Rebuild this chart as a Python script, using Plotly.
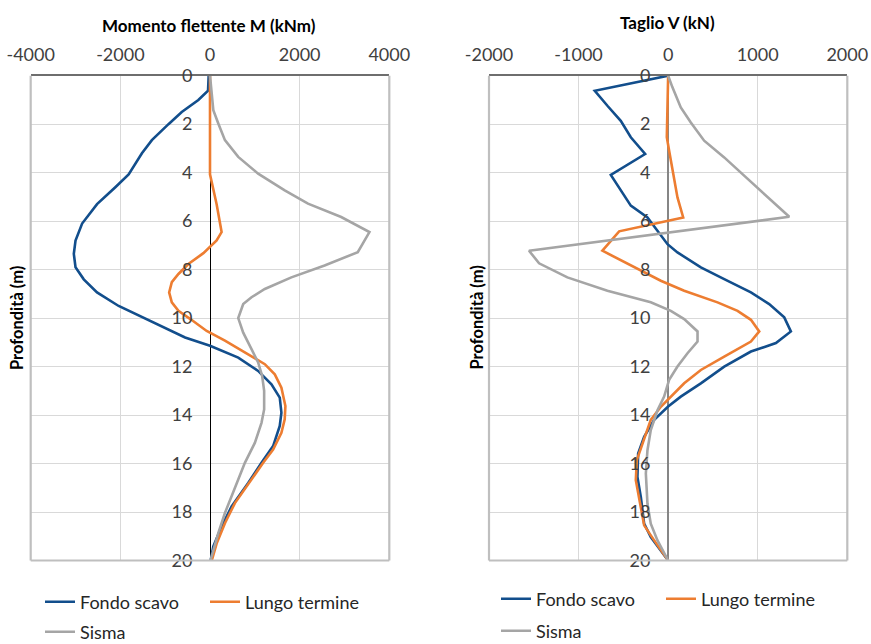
import plotly.graph_objects as go

# ---------------- data ----------------
series_names = ["Fondo scavo", "Lungo termine", "Sisma"]
series_colors = ["#124E8C", "#ED7D31", "#A5A5A5"]

# Momento flettente M (kNm) vs profondità (m)
fondo_M_depth = [0, 0.62, 1.0, 1.5, 2.0, 2.66, 3.2, 4.07, 4.6, 5.3, 6.1, 6.8, 7.35, 7.9, 8.4, 8.94, 9.5, 9.83,
                 10.3, 10.8, 11.14, 11.63, 12.18, 12.73, 13.28, 13.9, 14.45, 15.28, 15.97, 16.8, 17.77, 18.6, 19.42, 20.0]
fondo_M = [-30, -44, -260, -630, -926, -1297, -1519, -1815, -2112, -2520, -2853, -3000, -3038, -3000, -2816, -2520,
           -2038, -1667, -1149, -556, 0, 630, 1074, 1371, 1556, 1593, 1556, 1408, 1149, 852, 482, 259, 74, 15]

lungo_M_depth = [0, 4.07, 5.3, 6.45, 6.8, 7.08, 7.32, 7.77, 8.18, 8.52, 8.94, 9.35, 9.7, 10.05, 10.53, 10.93, 11.42,
                 11.9, 12.32, 12.87, 13.63, 14.18, 14.73, 15.42, 15.97, 16.66, 17.63, 18.46, 19.3, 20.0]
lungo_M = [0, 0, 148, 259, 148, 0, -148, -482, -704, -852, -911, -852, -704, -430, -74, 333, 778,
           1223, 1445, 1593, 1682, 1667, 1593, 1408, 1186, 926, 556, 333, 148, 40]

sisma_M_depth = [0, 0.62, 1.42, 1.97, 2.66, 3.35, 4.04, 4.73, 5.28, 5.83, 6.45, 7.28, 7.83, 8.32, 8.8, 9.14, 9.42,
                 10.0, 10.6, 11.28, 11.83, 12.38, 13.0, 13.77, 14.32, 15.15, 15.97, 16.66, 17.35, 18.04, 18.87, 19.7, 20.0]
sisma_M = [0, 37, 74, 185, 333, 630, 1074, 1667, 2186, 2927, 3557, 3297, 2556, 1815, 1223, 926, 741,
           630, 741, 926, 1074, 1163, 1208, 1208, 1149, 1000, 778, 630, 482, 333, 185, 59, 10]

# Taglio V (kN) vs profondità (m)
fondo_V_depth = [0, 0.62, 1.24, 1.86, 2.54, 3.23, 4.09, 4.75, 5.36, 5.85, 6.4, 6.95, 7.29, 7.91, 8.39, 8.94, 9.42,
                 9.97, 10.55, 11.03, 11.38, 12.0, 12.69, 13.24, 13.65, 14.2, 14.9, 15.59, 16.55, 17.38, 18.48, 19.03, 20.0]
fondo_V = [0, -819, -678, -529, -417, -257, -640, -529, -417, -231, -119, -7, 104, 365, 626, 924, 1128,
           1296, 1370, 1203, 924, 626, 365, 141, 0, -156, -268, -335, -343, -305, -268, -194, 0]

lungo_V_depth = [0, 1.17, 2.54, 3.1, 3.92, 5.02, 5.85, 6.42, 7.22, 8.05, 8.46, 8.87, 9.35, 9.7, 10.07, 10.55,
                 10.97, 11.59, 12.14, 12.69, 13.24, 13.66, 14.2, 15.17, 15.86, 16.69, 17.38, 17.93, 18.55, 19.17, 20.0]
lungo_V = [0, -7, -15, 11, 48, 104, 168, -547, -734, -305, -82, 179, 551, 775, 924, 1017,
           924, 626, 365, 179, 30, -82, -194, -287, -350, -361, -324, -298, -268, -156, 0]

sisma_V_depth = [0, 0.48, 1.31, 1.93, 2.68, 3.37, 4.06, 4.88, 5.82, 7.22, 7.74, 8.32, 8.87, 9.35, 9.7, 10.04,
                 10.55, 10.97, 11.45, 12.0, 12.55, 13.24, 13.8, 14.62, 15.45, 16.41, 17.66, 18.48, 19.17, 20.0]
sisma_V = [0, 48, 141, 253, 402, 626, 830, 1072, 1352, -1553, -1441, -1125, -678, -194, 30, 179,
           328, 328, 216, 104, 11, -45, -119, -194, -231, -249, -231, -194, -119, 0]

M_ticks = [-4000, -2000, 0, 2000, 4000]
M_ticklabels = ["-4000", "-2000", "0", "2000", "4000"]
V_ticks = [-2000, -1000, 0, 1000, 2000]
V_ticklabels = ["-2000", "-1000", "0", "1000", "2000"]
depth_ticks = [0, 2, 4, 6, 8, 10, 12, 14, 16, 18, 20]

title_M = "Momento flettente M (kNm)"
title_V = "Taglio V (kN)"
title_depth = "Profondità (m)"

# ---------------- figure ----------------
W, H = 871, 644
FONT = "Lato, Carlito, Calibri, sans-serif"

def px_x(p):
    return p / W

def px_y(p):
    return 1 - p / H

dom1 = [px_x(30.7), px_x(389.3)]
dom2 = [px_x(489), px_x(847.3)]
ydom = [px_y(560.5), px_y(75.7)]

fig = go.Figure()

left = [(fondo_M, fondo_M_depth, "legend"), (lungo_M, lungo_M_depth, "legend"), (sisma_M, sisma_M_depth, "legend2")]
right = [(fondo_V, fondo_V_depth, "legend3"), (lungo_V, lungo_V_depth, "legend3"), (sisma_V, sisma_V_depth, "legend4")]

for i, (xv, yv, lg) in enumerate(left):
    fig.add_trace(go.Scatter(x=xv, y=yv, mode="lines", name=series_names[i],
                             line=dict(color=series_colors[i], width=2.6),
                             xaxis="x", yaxis="y", legend=lg))
for i, (xv, yv, lg) in enumerate(right):
    fig.add_trace(go.Scatter(x=xv, y=yv, mode="lines", name=series_names[i],
                             line=dict(color=series_colors[i], width=2.6),
                             xaxis="x2", yaxis="y2", legend=lg))

grid = "#D9D9D9"
tickfont = dict(family=FONT, size=18, color="#404040")

xcommon = dict(side="top", showgrid=True, gridcolor=grid, gridwidth=1.3,
               ticks="outside", ticklen=6, tickcolor="rgba(0,0,0,0)",
               tickfont=tickfont, showline=True, linecolor="#6E6E6E", linewidth=2,
               fixedrange=True)
ycommon = dict(autorange=False, range=[20, 0], tickvals=depth_ticks, showgrid=True, gridcolor=grid,
               gridwidth=1.3, zeroline=False, ticks="outside", ticklen=14, tickcolor="rgba(0,0,0,0)",
               tickfont=tickfont, showline=False, domain=ydom, anchor="free", side="left")

fig.update_layout(
    width=W, height=H,
    margin=dict(l=0, r=0, t=0, b=0, autoexpand=False),
    paper_bgcolor="white", plot_bgcolor="white",
    font=dict(family=FONT, color="#404040"),
    xaxis=dict(domain=dom1, range=[-4000, 4000], tickvals=M_ticks, ticktext=M_ticklabels, anchor="y",
               zeroline=True, zerolinecolor="#000000", zerolinewidth=1, **xcommon),
    xaxis2=dict(domain=dom2, range=[-2000, 2000], tickvals=V_ticks, ticktext=V_ticklabels, anchor="y2",
                zeroline=True, zerolinecolor="#868686", zerolinewidth=1.5, **xcommon),
    yaxis=dict(position=px_x(210), **ycommon),
    yaxis2=dict(position=px_x(668), **ycommon),
    showlegend=True,
)

legfont = dict(family=FONT, size=18, color="#262626")
legcommon = dict(orientation="h", xanchor="left", yanchor="middle", font=legfont,
                 bgcolor="rgba(0,0,0,0)", entrywidth=120, entrywidthmode="pixels",
                 itemclick=False, itemdoubleclick=False)
fig.update_layout(
    legend=dict(x=px_x(40), y=px_y(602), **legcommon),
    legend2=dict(x=px_x(40), y=px_y(632), **legcommon),
    legend3=dict(x=px_x(496), y=px_y(599), **legcommon),
    legend4=dict(x=px_x(496), y=px_y(631), **legcommon),
)

# plot frame (left, bottom, right borders)
for xr, yr in [("x domain", "y domain"), ("x2 domain", "y2 domain")]:
    for (x0, y0, x1, y1) in [(0, 0, 0, 1), (0, 0, 1, 0), (1, 0, 1, 1)]:
        fig.add_shape(type="line", xref=xr, yref=yr, x0=x0, y0=y0, x1=x1, y1=y1,
                      line=dict(color="#BFBFBF", width=2.2), layer="above")

# titles
annots = [
    dict(text=f"<b>{title_M}</b>", x=px_x(209), y=px_y(25), size=17),
    dict(text=f"<b>{title_V}</b>", x=px_x(667), y=px_y(23), size=17),
    dict(text=f"<b>{title_depth}</b>", x=px_x(17), y=px_y(318), textangle=-90, size=16.5),
    dict(text=f"<b>{title_depth}</b>", x=px_x(476.5), y=px_y(318), textangle=-90, size=16.5),
]
for a in annots:
    size = a.pop("size")
    fig.add_annotation(xref="paper", yref="paper", showarrow=False, xanchor="center", yanchor="middle",
                       font=dict(family=FONT, size=size, color="#000000"), **a)

fig.write_html("out.html")
